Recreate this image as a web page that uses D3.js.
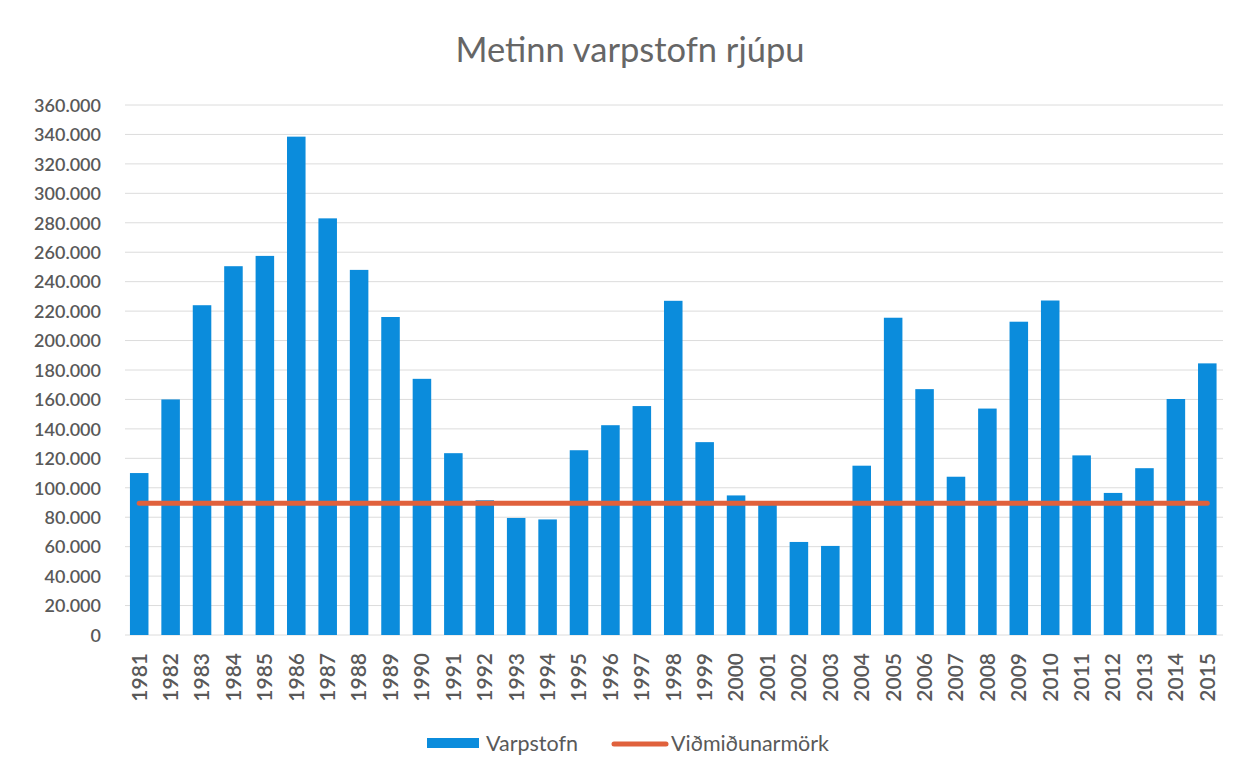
<!DOCTYPE html>
<html><head><meta charset="utf-8">
<script src="https://cdn.jsdelivr.net/npm/d3@7/dist/d3.min.js"></script>
<style>body{margin:0;background:#fff}svg{display:block}text{font-family:Lato,"Open Sans",sans-serif;fill:#595959}</style>
</head><body><svg id="c" width="1251" height="775"></svg>
<script>
const years = [1981,1982,1983,1984,1985,1986,1987,1988,1989,1990,1991,1992,1993,1994,1995,1996,1997,1998,1999,2000,2001,2002,2003,2004,2005,2006,2007,2008,2009,2010,2011,2012,2013,2014,2015];
const varpstofn = [110000,160000,224000,250500,257500,338500,283000,248000,216000,174000,123500,91500,79500,78500,125500,142500,155500,227000,131000,94800,88300,63200,60500,115000,215500,167000,107500,153800,212800,227200,122000,96500,113300,160300,184500];
const vidmidun = years.map(() => 89500);
const yTicks = [0,20000,40000,60000,80000,100000,120000,140000,160000,180000,200000,220000,240000,260000,280000,300000,320000,340000,360000];
const title = "Metinn varpstofn rjúpu";
const seriesNames = ["Varpstofn","Viðmiðunarmörk"];

const svg = d3.select("#c");
const x = d3.scaleBand().domain(years).range([123.5,1223]).paddingInner(0.41).paddingOuter(0.205);
const y = d3.scaleLinear().domain([0,360000]).range([635,105]);
const fmt = v => v === 0 ? "0" : d3.format(",")(v).replace(/,/g,".");

svg.append("text").attr("x",630).attr("y",62).attr("text-anchor","middle")
  .style("font-size","34.5px").style("fill","#666").text(title);

// gridlines
svg.append("g").selectAll("line").data(yTicks).join("line")
  .attr("x1",125).attr("x2",1223).attr("y1",d=>y(d)).attr("y2",d=>y(d))
  .attr("stroke","#dcdcdc").attr("stroke-width",1);

// y axis
const ya = svg.append("g").attr("transform","translate(101,0)")
  .call(d3.axisLeft(y).tickValues(yTicks).tickFormat(fmt).tickSize(0).tickPadding(0));
ya.select(".domain").remove();
ya.selectAll("text").style("font-size","18px").style("font-weight","600").attr("dy","0.35em");

// bars
svg.append("g").selectAll("rect").data(years).join("rect")
  .attr("x",d=>x(d)).attr("width",x.bandwidth())
  .attr("y",(d,i)=>y(varpstofn[i])).attr("height",(d,i)=>y(0)-y(varpstofn[i]))
  .attr("fill","#0b8cdc");

// line
const line = d3.line().x((d,i)=>x(years[i])+x.bandwidth()/2).y(d=>y(d));
svg.append("path").datum(vidmidun).attr("d",line).attr("fill","none")
  .attr("stroke","#e0613c").attr("stroke-width",5).attr("stroke-linecap","round");

// x axis
const xa = svg.append("g").attr("transform","translate(0,635)")
  .call(d3.axisBottom(x).tickSize(0).tickPadding(0));
xa.select(".domain").remove();
xa.selectAll("text").style("font-size","21px").style("font-weight","600")
  .attr("transform","rotate(-90)").attr("text-anchor","end")
  .attr("x",-18).attr("y",0).attr("dy","0.35em");

// legend
const lg = svg.append("g");
lg.append("rect").attr("x",427).attr("y",738).attr("width",52).attr("height",10).attr("fill","#0b8cdc");
lg.append("text").attr("x",486).attr("y",751).style("font-size","21.5px").text(seriesNames[0]);
lg.append("line").attr("x1",614).attr("x2",666).attr("y1",744).attr("y2",744)
  .attr("stroke","#e0613c").attr("stroke-width",5).attr("stroke-linecap","round");
lg.append("text").attr("x",671).attr("y",751).style("font-size","21.5px").text(seriesNames[1]);
</script></body></html>
